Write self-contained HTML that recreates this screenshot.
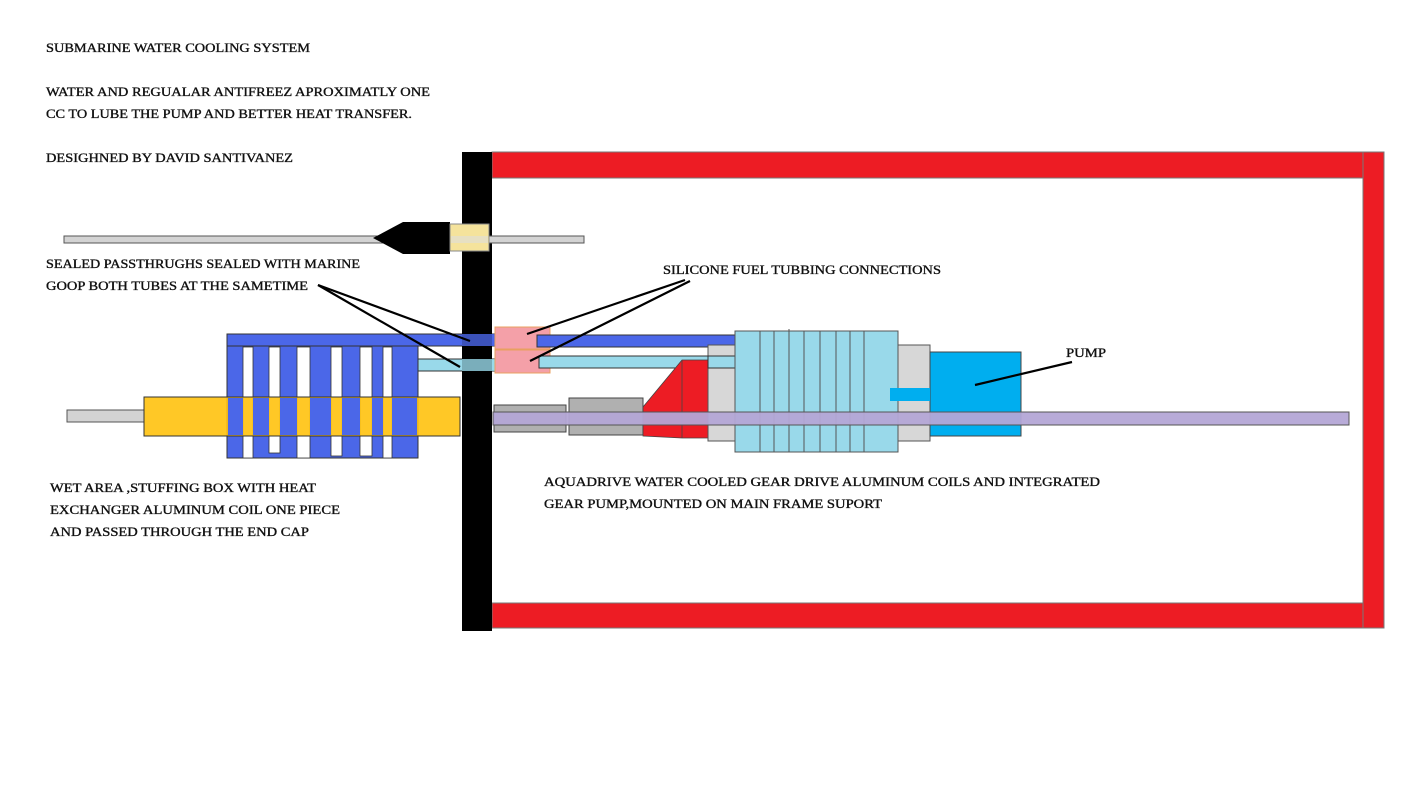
<!DOCTYPE html>
<html><head><meta charset="utf-8"><style>
html,body{margin:0;padding:0;background:#fff;}
svg{display:block;}
text{font-family:"Liberation Serif",serif;font-size:12.5px;fill:#111;stroke:#111;stroke-width:0.35;}
</style></head><body>
<svg width="1419" height="796" viewBox="0 0 1419 796" xmlns="http://www.w3.org/2000/svg">
<rect width="1419" height="796" fill="#fff"/>
<g>
<text x="46" y="52" textLength="264" lengthAdjust="spacingAndGlyphs">SUBMARINE WATER COOLING SYSTEM</text>
<text x="46" y="96" textLength="384" lengthAdjust="spacingAndGlyphs">WATER AND REGUALAR ANTIFREEZ APROXIMATLY ONE</text>
<text x="46" y="118" textLength="366" lengthAdjust="spacingAndGlyphs">CC TO LUBE THE PUMP AND BETTER HEAT TRANSFER.</text>
<text x="46" y="162" textLength="247" lengthAdjust="spacingAndGlyphs">DESIGHNED BY DAVID SANTIVANEZ</text>
<text x="46" y="268" textLength="314" lengthAdjust="spacingAndGlyphs">SEALED PASSTHRUGHS SEALED WITH MARINE</text>
<text x="46" y="290" textLength="262" lengthAdjust="spacingAndGlyphs">GOOP BOTH TUBES AT THE SAMETIME</text>
<text x="663" y="274" textLength="278" lengthAdjust="spacingAndGlyphs">SILICONE FUEL TUBBING CONNECTIONS</text>
<text x="1066" y="357" textLength="40" lengthAdjust="spacingAndGlyphs">PUMP</text>
<text x="50" y="492" textLength="266" lengthAdjust="spacingAndGlyphs">WET AREA ,STUFFING BOX WITH HEAT</text>
<text x="50" y="514" textLength="290" lengthAdjust="spacingAndGlyphs">EXCHANGER ALUMINUM COIL ONE PIECE</text>
<text x="50" y="536" textLength="259" lengthAdjust="spacingAndGlyphs">AND PASSED THROUGH THE END CAP</text>
<text x="544" y="486" textLength="556" lengthAdjust="spacingAndGlyphs">AQUADRIVE WATER COOLED GEAR DRIVE  ALUMINUM COILS AND INTEGRATED</text>
<text x="544" y="508" textLength="338" lengthAdjust="spacingAndGlyphs">GEAR PUMP,MOUNTED ON MAIN FRAME SUPORT</text>
</g>

<rect x="492" y="152" width="871" height="26" fill="#ed1c24" stroke="#777" stroke-width="1"/>
<rect x="492" y="603" width="871" height="25" fill="#ed1c24" stroke="#777" stroke-width="1"/>
<rect x="1363" y="152" width="21" height="476" fill="#ed1c24" stroke="#777" stroke-width="1"/>

<rect x="67" y="410" width="77" height="12" fill="#d3d3d3" stroke="#555" stroke-width="1"/>

<rect x="227" y="334" width="191" height="124" fill="#4b67e8" stroke="#333" stroke-width="1"/>
<rect x="227" y="334" width="278" height="12" fill="#4b67e8" stroke="#333" stroke-width="1"/>
<g fill="#fff" stroke="#333" stroke-width="0.8">
<rect x="243" y="347" width="10" height="111"/>
<rect x="269" y="347" width="11" height="106"/>
<rect x="297" y="347" width="13" height="111"/>
<rect x="331" y="347" width="11" height="109"/>
<rect x="360" y="347" width="12" height="109"/>
<rect x="383" y="347" width="9" height="111"/>
</g>
<rect x="144" y="397" width="316" height="39" fill="#ffc20e" fill-opacity="0.9" stroke="#333" stroke-width="1"/>
<g fill="#4b67e8">
<rect x="228" y="398" width="15" height="37"/>
<rect x="253" y="398" width="16" height="37"/>
<rect x="280" y="398" width="17" height="37"/>
<rect x="310" y="398" width="21" height="37"/>
<rect x="342" y="398" width="18" height="37"/>
<rect x="372" y="398" width="11" height="37"/>
<rect x="392" y="398" width="25" height="37"/>
</g>
<rect x="418" y="359" width="87" height="12" fill="#99d9ea" stroke="#333" stroke-width="1"/>

<rect x="462" y="152" width="30" height="479" fill="#000"/>
<rect x="462" y="334" width="43" height="12" fill="#4b67e8" fill-opacity="0.8"/>
<rect x="462" y="359" width="43" height="12" fill="#99d9ea" fill-opacity="0.8"/>

<rect x="64" y="236" width="520" height="7" fill="#d3d3d3" stroke="#555" stroke-width="1"/>
<polygon points="373,238 403,222 450,222 450,254 403,254" fill="#000"/>
<rect x="450" y="224" width="39" height="27" fill="#f5e39c" stroke="#888" stroke-width="1"/>
<rect x="451" y="236" width="37" height="7" fill="#ddd" fill-opacity="0.6"/>

<rect x="495" y="327" width="55" height="22" fill="#f4a0a8" stroke="#e8a060" stroke-width="1"/>
<rect x="495" y="350" width="55" height="23" fill="#f4a0a8" stroke="#e8a060" stroke-width="1"/>
<rect x="537" y="335" width="199" height="12" fill="#4b67e8" stroke="#333" stroke-width="1"/>
<rect x="539" y="356" width="197" height="12" fill="#99d9ea" stroke="#333" stroke-width="1"/>

<rect x="494" y="405" width="72" height="27" fill="#b0b0b0" stroke="#444" stroke-width="1"/>
<rect x="569" y="398" width="74" height="37" fill="#b0b0b0" stroke="#444" stroke-width="1"/>
<polygon points="643,407 682,360 708,360 708,438 682,438 643,436" fill="#ed1c24" stroke="#444" stroke-width="0.8"/>
<line x1="682" y1="360" x2="682" y2="438" stroke="#444" stroke-width="0.8"/>
<rect x="708" y="345" width="222" height="96" fill="#d7d7d7" stroke="#555" stroke-width="1"/>
<rect x="708" y="356" width="28" height="12" fill="#99d9ea" stroke="#333" stroke-width="1"/>
<rect x="735" y="331" width="163" height="121" fill="#99d9ea" stroke="#555" stroke-width="1"/>
<g stroke="#555" stroke-width="1">
<line x1="760" y1="331" x2="760" y2="452"/><line x1="774" y1="331" x2="774" y2="452"/>
<line x1="789" y1="329" x2="789" y2="452"/><line x1="804" y1="331" x2="804" y2="452"/>
<line x1="820" y1="331" x2="820" y2="452"/><line x1="836" y1="331" x2="836" y2="452"/>
<line x1="850" y1="331" x2="850" y2="452"/><line x1="864" y1="331" x2="864" y2="452"/>
</g>
<rect x="930" y="352" width="91" height="84" fill="#00aeef" stroke="#444" stroke-width="1"/>
<rect x="890" y="388" width="40" height="13" fill="#00aeef"/>
<rect x="493" y="412" width="856" height="13" fill="#b4a7d6" fill-opacity="0.95" stroke="#555" stroke-width="1"/>

<g stroke="#000" stroke-width="2.2">
<line x1="318" y1="285" x2="470" y2="341"/>
<line x1="318" y1="285" x2="460" y2="367"/>
<line x1="685" y1="280" x2="527" y2="334"/>
<line x1="690" y1="281" x2="530" y2="361"/>
<line x1="1072" y1="362" x2="975" y2="385"/>
</g>
</svg>
</body></html>
